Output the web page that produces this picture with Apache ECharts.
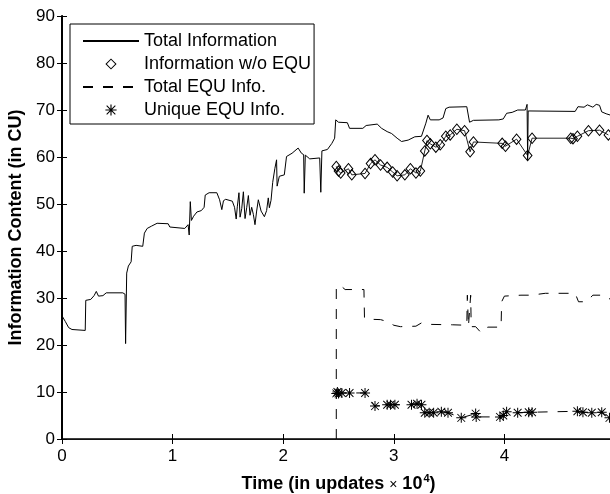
<!DOCTYPE html>
<html>
<head>
<meta charset="utf-8">
<script src="https://cdn.jsdelivr.net/npm/echarts@6/dist/echarts.min.js"></script>
<style>
  html, body { margin: 0; padding: 0; background: #fff; }
  #main { width: 610px; height: 494px; }
</style>
</head>
<body>
<div id="main"></div>
<script>
// values, x in units of 10^4 updates
var totalInfo = [
  [0, 21], [0.005, 26], [0.03, 25], [0.06, 23.7], [0.09, 23.3], [0.21, 23.1], [0.215, 29.5], [0.26, 29.7],
  [0.29, 30.5], [0.31, 31.4], [0.33, 30.4], [0.37, 30.5], [0.40, 31.1], [0.55, 31.1], [0.57, 30.8],
  [0.575, 20.3], [0.585, 35.3], [0.60, 36.8], [0.625, 37.7], [0.635, 41], [0.67, 41.2], [0.73, 41],
  [0.745, 43.8], [0.77, 44.8], [0.81, 45.3], [0.86, 45.9], [0.96, 45.8], [0.975, 45.1], [1.11, 44.8],
  [1.14, 45.6], [1.15, 43.4], [1.16, 50.5], [1.17, 46.5], [1.19, 47.4], [1.22, 48.3], [1.26, 48.6],
  [1.285, 49.3], [1.295, 51.9], [1.33, 52.4], [1.40, 52.4], [1.425, 50.9], [1.445, 48.8], [1.46, 50.7],
  [1.48, 51.0], [1.54, 50.6], [1.56, 49.3], [1.575, 46.8], [1.585, 49.4], [1.60, 52.4], [1.61, 47.2],
  [1.625, 49.0], [1.64, 52.6], [1.655, 46.9], [1.67, 49.2], [1.685, 51.8], [1.70, 47.6], [1.715, 49.3],
  [1.73, 47.8], [1.745, 45.6], [1.76, 48.5], [1.775, 50.9], [1.80, 48.5], [1.83, 47.3], [1.85, 48.6],
  [1.865, 51.3], [1.875, 49.2], [1.89, 50.8], [1.905, 54.6], [1.925, 57.6], [1.94, 59.4], [1.945, 53.8],
  [1.965, 55.9], [2.01, 56.2], [2.03, 60.1], [2.08, 60.8], [2.135, 61.9], [2.165, 60.8], [2.185, 60.5],
  [2.19, 52.3], [2.20, 60.4], [2.24, 59.6], [2.33, 59.8], [2.34, 52.5], [2.35, 61.3], [2.40, 61.6],
  [2.44, 62.9], [2.465, 64.0], [2.475, 67.9], [2.50, 67.4], [2.58, 67.3], [2.60, 66.1], [2.72, 66.1],
  [2.75, 66.7], [2.85, 67.0], [2.89, 66.1], [2.94, 65.4], [2.98, 65.0], [3.03, 64.0], [3.07, 63.3],
  [3.13, 63.6], [3.19, 64.3], [3.25, 64.4], [3.29, 67.2], [3.31, 68.9], [3.33, 67.9], [3.41, 67.9],
  [3.445, 68.3], [3.47, 70.3], [3.50, 70.6], [3.66, 70.7], [3.685, 67.4], [3.72, 67.8], [3.95, 67.9],
  [3.99, 68.1], [4.02, 69.3], [4.07, 69.5], [4.12, 70.0], [4.19, 70.0], [4.205, 71.2], [4.21, 59.4],
  [4.215, 69.8], [4.64, 69.7], [4.665, 70.7], [4.72, 70.6], [4.75, 71.1], [4.80, 70.6], [4.83, 71.2],
  [4.86, 71.0], [4.88, 69.6], [4.92, 69.2], [4.96, 68.9]
];
var infoNoEqu = [
  [2.48, 58.0], [2.50, 57.0], [2.52, 56.6], [2.59, 57.5], [2.62, 56.2], [2.74, 56.5], [2.79, 58.6],
  [2.83, 59.4], [2.88, 58.3], [2.94, 57.8], [2.99, 56.8], [3.03, 56.0], [3.10, 56.2], [3.15, 57.5],
  [3.20, 56.6], [3.24, 57.0], [3.28, 61.3], [3.30, 63.5], [3.33, 62.8], [3.38, 62.1], [3.42, 62.6],
  [3.47, 64.4], [3.51, 64.7], [3.57, 65.9], [3.64, 65.6], [3.69, 61.1], [3.72, 63.2], [3.98, 62.9],
  [4.01, 62.3], [4.11, 63.8], [4.21, 60.3], [4.25, 64.0], [4.60, 64.0], [4.62, 63.9], [4.66, 64.4],
  [4.76, 65.6], [4.86, 65.7], [4.94, 64.7]
];
var totalEqu = [
  [2.48, 0], [2.48, 32.6], [2.53, 32.4], [2.56, 31.8], [2.73, 31.8], [2.735, 25.7], [2.76, 25.5],
  [2.88, 25.4], [2.94, 25.0], [3.0, 24.2], [3.06, 23.9], [3.20, 24.0], [3.25, 24.7], [3.30, 24.4],
  [3.53, 24.3], [3.66, 24.2], [3.665, 30.6], [3.675, 24.0], [3.69, 24.0], [3.695, 30.6], [3.70, 23.9],
  [3.74, 23.9], [3.79, 22.6], [3.85, 23.8], [3.97, 23.8], [3.975, 29.2], [4.0, 30.4], [4.15, 30.6],
  [4.24, 30.6], [4.37, 31.0], [4.64, 31.0], [4.67, 29.2], [4.74, 29.2], [4.80, 30.6], [4.87, 30.6],
  [4.90, 30.0], [4.96, 29.8]
];
var uniqueEqu = [
  [2.48, 9.7], [2.49, 10.0], [2.50, 9.7], [2.53, 9.8], [2.60, 9.8], [2.74, 9.8], [2.83, 7.0],
  [2.94, 7.3], [2.97, 7.3], [3.01, 7.3], [3.16, 7.3], [3.21, 7.5], [3.25, 7.3], [3.28, 5.6],
  [3.32, 5.6], [3.36, 5.6], [3.43, 5.8], [3.49, 5.6], [3.61, 4.5], [3.74, 5.4], [3.745, 4.7],
  [3.96, 4.7], [3.99, 5.0], [4.02, 5.8], [4.12, 5.6], [4.22, 5.7], [4.25, 5.7], [4.66, 5.9],
  [4.71, 5.7], [4.79, 5.6], [4.88, 5.7], [4.95, 4.5]
];
var seriesNames = ['Total Information', 'Information w/o EQU', 'Total EQU Info.', 'Unique EQU Info.'];

var FONT = '"Liberation Sans", Arial, sans-serif';
// hollow diamond and asterisk marker shapes
var diamondPath = 'path://M10 0 L20 12 L10 24 L0 12 Z M10 3.1 L2.6 12 L10 20.9 L17.4 12 Z';
var starPath = 'path://M0 9 L20 9 L20 11 L0 11 Z M9 0 L11 0 L11 20 L9 20 Z' +
  ' M1.6 2.9 L2.9 1.6 L18.4 17.1 L17.1 18.4 Z M17.1 1.6 L18.4 2.9 L2.9 18.4 L1.6 17.1 Z';

var chart = echarts.init(document.getElementById('main'));

var option = {
  animation: false,
  backgroundColor: '#fff',
  grid: { left: 62, top: 16, width: 553, height: 423, outerBoundsMode: 'none', containLabel: false },
  legend: {
    orient: 'vertical',
    left: 70,
    top: 24,
    backgroundColor: '#fff',
    borderColor: '#000',
    borderWidth: 1,
    borderRadius: 0,
    padding: [8, 3, 5, 12],
    itemWidth: 56,
    itemHeight: 14,
    itemGap: 5,
    selectedMode: false,
    textStyle: { fontSize: 18, color: '#000', fontFamily: FONT },
    data: [
      { name: seriesNames[0], itemStyle: { opacity: 0 } },
      { name: seriesNames[1], lineStyle: { opacity: 0 } },
      { name: seriesNames[2], itemStyle: { opacity: 0 } },
      { name: seriesNames[3], lineStyle: { opacity: 0 } }
    ]
  },
  xAxis: [
    {
      type: 'value', min: 0, max: 5, interval: 1, position: 'bottom',
      axisLine: { lineStyle: { color: '#444', width: 1 } },
      axisTick: { inside: true, length: 5, lineStyle: { color: '#000' } },
      splitLine: { show: false },
      axisLabel: { fontSize: 17, color: '#000', margin: 9, fontFamily: FONT },
      name: '{b|Time (in updates }{m|×}{b| 10}{s|4}{b|)}',
      nameLocation: 'middle',
      nameGap: 34,
      nameTextStyle: {
        rich: {
          b: { fontSize: 18, fontWeight: 'bold', color: '#000', fontFamily: FONT, verticalAlign: 'bottom' },
          m: { fontSize: 14, color: '#000', fontFamily: FONT, verticalAlign: 'bottom', padding: [0, 0, 1, 0] },
          s: { fontSize: 11, fontWeight: 'bold', color: '#000', fontFamily: FONT,
               verticalAlign: 'bottom', padding: [0, 0, 9, 1] }
        }
      }
    },
    {
      type: 'value', min: 0, max: 5, interval: 1, position: 'top',
      axisLine: { lineStyle: { color: '#000', width: 1.5 } },
      axisTick: { inside: true, length: 5, lineStyle: { color: '#000' } },
      splitLine: { show: false },
      axisLabel: { show: false }
    }
  ],
  yAxis: [
    {
      type: 'value', min: 0, max: 90, interval: 10, position: 'left',
      axisLine: { show: true, lineStyle: { color: '#000', width: 2 } },
      axisTick: { show: true, inside: true, length: 5, lineStyle: { color: '#000' } },
      splitLine: { show: false },
      axisLabel: { fontSize: 17, color: '#000', margin: 7, fontFamily: FONT },
      name: 'Information Content (in CU)',
      nameLocation: 'middle',
      nameGap: 34,
      nameTextStyle: { fontSize: 18, fontWeight: 'bold', color: '#000', fontFamily: FONT }
    },
    {
      type: 'value', min: 0, max: 90, interval: 10, position: 'right',
      axisLine: { show: true, lineStyle: { color: '#000' } },
      axisTick: { show: true, inside: true, length: 5 },
      splitLine: { show: false },
      axisLabel: { show: false }
    }
  ],
  series: [
    {
      name: seriesNames[0], type: 'line', data: totalInfo, symbol: 'none',
      lineStyle: { color: '#000', width: 1 }, itemStyle: { color: '#000' }, z: 3
    },
    {
      name: seriesNames[1], type: 'line', data: infoNoEqu,
      symbol: diamondPath, symbolSize: [10, 12], showAllSymbol: true,
      lineStyle: { color: '#222', width: 1 }, itemStyle: { color: '#000' }, z: 2
    },
    {
      name: seriesNames[2], type: 'line', data: totalEqu, symbol: 'none',
      lineStyle: { color: '#000', width: 1, type: [10, 10] }, itemStyle: { color: '#000' }, z: 2
    },
    {
      name: seriesNames[3], type: 'line', data: uniqueEqu,
      symbol: starPath, symbolSize: 10, showAllSymbol: true,
      lineStyle: { color: '#000', width: 1, type: [10, 10] }, itemStyle: { color: '#000' }, z: 2
    }
  ]
};
chart.setOption(option);
</script>
</body>
</html>
